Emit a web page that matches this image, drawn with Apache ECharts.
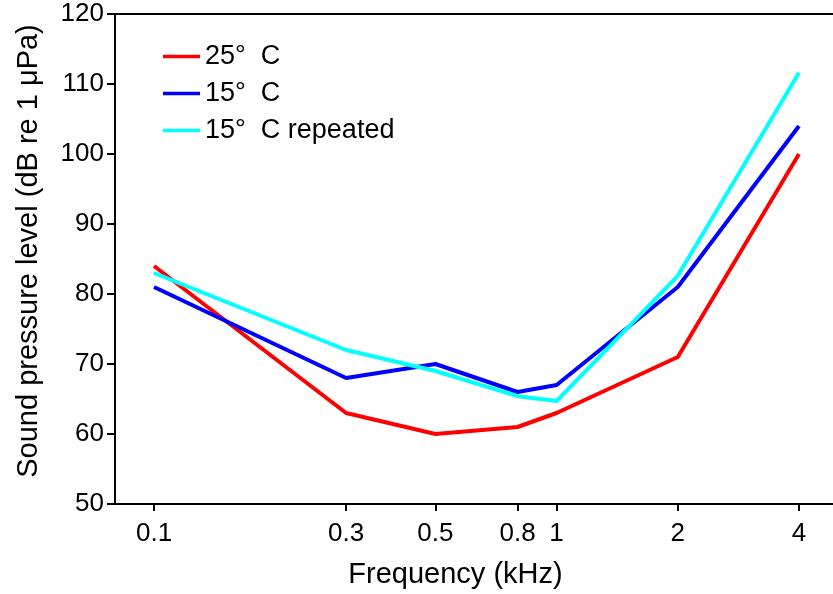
<!DOCTYPE html>
<html>
<head>
<meta charset="utf-8">
<script src="https://cdn.jsdelivr.net/npm/echarts@6/dist/echarts.min.js"></script>
<style>html,body{margin:0;padding:0;background:#fff}#c{width:833px;height:594px}</style>
</head>
<body>
<div id="c"></div>
<script>
const freqs = [0.1, 0.3, 0.5, 0.8, 1, 2, 4];
const xTickLabels = ['0.1', '0.3', '0.5', '0.8', '1', '2', '4'];
const spl25 = [84, 63, 60, 61, 63, 71, 100];
const spl15 = [81, 68, 70, 66, 67, 81, 104];
const spl15rep = [83, 72, 69, 65.4, 64.7, 82.6, 111.6];
const seriesNames = ['25°  C', '15°  C', '15°  C repeated'];
const colors = ['#ff0000', '#0000ff', '#00ffff'];

const font = 'Liberation Sans, Arial, sans-serif';
const pair = v => freqs.map((f, i) => [f, v[i]]);
const chart = echarts.init(document.getElementById('c'), null, {renderer: 'canvas'});
chart.setOption({
  animation: false,
  grid: {left: 115, top: 14, width: 723, height: 490, outerBoundsMode: 'none', containLabel: false,
    show: true, borderColor: '#000', borderWidth: 2, backgroundColor: 'transparent'},
  legend: {
    orient: 'vertical', left: 158, top: 38, itemWidth: 37, itemHeight: 3.5, itemGap: 10,
    icon: 'rect',
    textStyle: {fontFamily: font, fontSize: 27, color: '#000'},
    data: seriesNames
  },
  xAxis: {
    type: 'log', logBase: 10, min: 0.08, max: 5,
    name: 'Frequency (kHz)', nameLocation: 'middle', nameGap: 56,
    nameTextStyle: {fontFamily: font, fontSize: 29, color: '#000', padding: [0, 42, 0, 0]},
    axisLine: {lineStyle: {color: '#000', width: 2}},
    axisTick: {show: true, length: 7, inside: false, lineStyle: {color: '#000', width: 2}, customValues: freqs},
    axisLabel: {fontFamily: font, fontSize: 26, color: '#000', margin: 17, customValues: freqs,
      formatter: v => { const i = freqs.findIndex(f => Math.abs(f - v) < 1e-9); return i >= 0 ? xTickLabels[i] : ''; }},
    splitLine: {show: false}, minorTick: {show: false}
  },
  yAxis: {
    type: 'value', min: 50, max: 120, interval: 10,
    name: 'Sound pressure level (dB re 1 μPa)', nameLocation: 'middle', nameGap: 72,
    nameTextStyle: {fontFamily: font, fontSize: 29, color: '#000', padding: [0, 0, 0, 16]},
    axisLine: {show: true, lineStyle: {color: '#000', width: 2}},
    axisTick: {show: true, length: 8, lineStyle: {color: '#000', width: 2}},
    axisLabel: {fontFamily: font, fontSize: 26, color: '#000', margin: 11},
    splitLine: {show: false}
  },
  series: [spl25, spl15, spl15rep].map((d, i) => ({
    name: seriesNames[i], type: 'line', data: pair(d), symbol: 'none',
    lineStyle: {color: colors[i], width: 4}, itemStyle: {color: colors[i]}
  }))
});
</script>
</body>
</html>
